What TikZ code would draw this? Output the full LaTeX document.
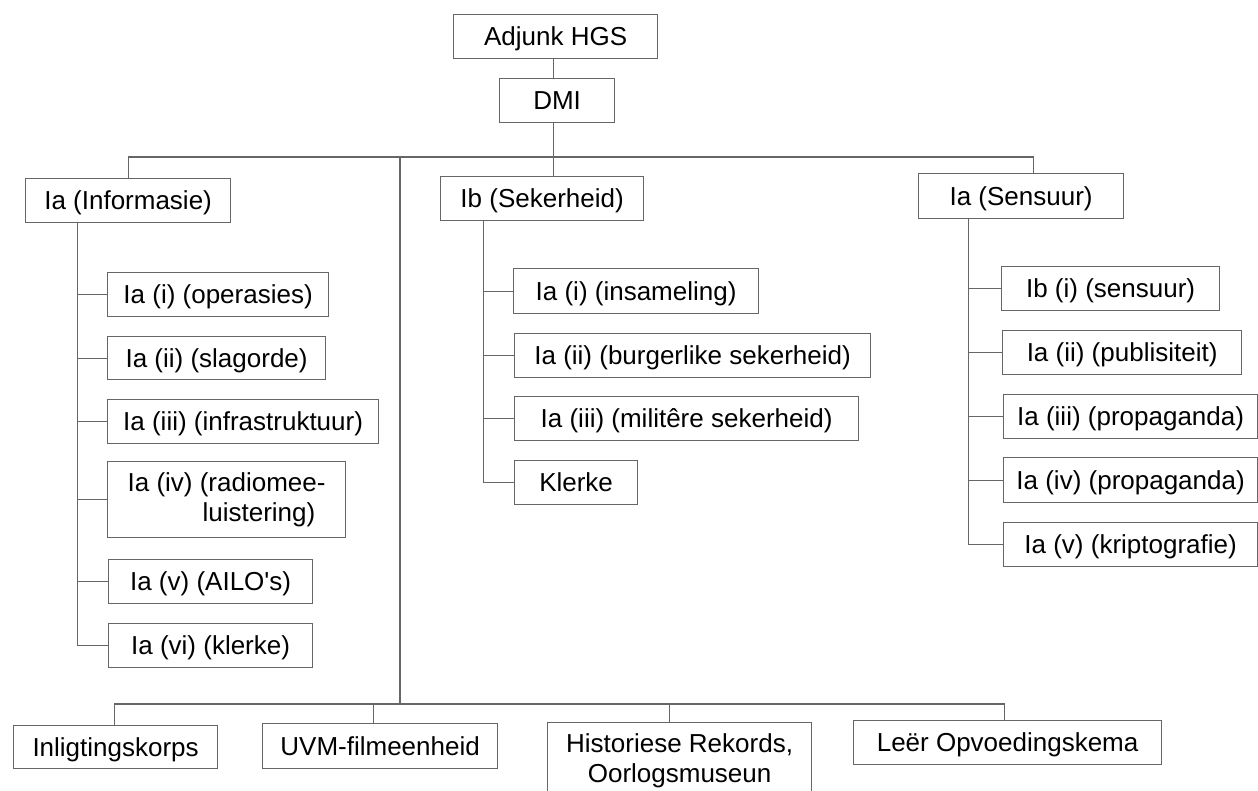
\documentclass[tikz,border=0pt]{standalone}
\usepackage{fontspec}
\setmainfont{Liberation Sans}
\newcommand\figfont{\fontsize{26}{30.5}\selectfont}
\definecolor{linec}{gray}{0.4}
\tikzset{
  bx/.style={draw=linec, line width=1.2pt, anchor=north west, inner sep=0pt, font=\figfont, text=black},
  one/.style={bx, text height=24.2pt, text depth=5.6pt},
  ln/.style={draw=linec, line width=1.2pt},
}
\begin{document}
\begin{tikzpicture}[x=1pt,y=-1pt]
\useasboundingbox (0,0) rectangle (1258,790);
\clip (0,0) rectangle (1258,790);
% top
\node[one, minimum width=204pt, minimum height=44pt] (adj) at (453,14) {Adjunk HGS};
\node[one, minimum width=115pt, minimum height=44pt] (dmi) at (499,78) {DMI};
% main branches
\node[one, minimum width=205pt, minimum height=44pt] (inf) at (25,178) {Ia (Informasie)};
\node[one, minimum width=203pt, minimum height=44pt] (sek) at (440,176) {Ib (Sekerheid)};
\node[one, minimum width=205pt, minimum height=45pt] (sen) at (918,173) {Ia (Sensuur)};
% Informasie children
\node[one, minimum width=221pt, minimum height=44pt] (i1) at (107,272) {Ia (i) (operasies)};
\node[one, minimum width=218pt, minimum height=43pt] (i2) at (107,336) {Ia (ii) (slagorde)};
\node[one, minimum width=271pt, minimum height=44pt] (i3) at (107,399) {Ia (iii) (infrastruktuur)};
\node[bx, minimum width=238pt, minimum height=76pt, align=left] (i4) at (107,461) {Ia (iv) (radiomee-\\\hspace*{75pt}luistering)};
\node[one, minimum width=204pt, minimum height=44pt] (i5) at (108,559) {Ia (v) (AILO\textquotesingle s)};
\node[one, minimum width=204pt, minimum height=44pt] (i6) at (108,623) {Ia (vi) (klerke)};
% Sekerheid children
\node[one, minimum width=245pt, minimum height=45pt] (s1) at (513,268) {Ia (i) (insameling)};
\node[one, minimum width=356pt, minimum height=44pt] (s2) at (514,333) {Ia (ii) (burgerlike sekerheid)};
\node[one, minimum width=344pt, minimum height=44pt] (s3) at (514,396) {Ia (iii) (militêre sekerheid)};
\node[one, minimum width=123pt, minimum height=44pt] (s4) at (514,460) {Klerke};
% Sensuur children
\node[one, minimum width=218pt, minimum height=44pt] (c1) at (1001,266) {Ib (i) (sensuur)};
\node[one, minimum width=239pt, minimum height=44pt] (c2) at (1002,330) {Ia (ii) (publisiteit)};
\node[one, minimum width=254pt, minimum height=44pt] (c3) at (1003,394) {Ia (iii) (propaganda)};
\node[one, minimum width=254pt, minimum height=45pt] (c4) at (1003,457) {Ia (iv) (propaganda)};
\node[one, minimum width=254pt, minimum height=44pt] (c5) at (1003,522) {Ia (v) (kriptografie)};
% bottom
\node[one, minimum width=204pt, minimum height=43pt] (b1) at (13,725) {Inligtingskorps};
\node[one, minimum width=235pt, minimum height=45pt] (b2) at (262,723) {UVM-filmeenheid};
\node[bx, minimum width=264pt, minimum height=76pt, align=center] (b3) at (547,722) {Historiese Rekords,\\Oorlogsmuseun};
\node[one, minimum width=308pt, minimum height=44pt] (b4) at (853,720) {Leër Opvoedingskema};

% connectors top
\draw[ln] ([xshift=-2pt]adj.south) -- ([xshift=-2pt]adj.south |- dmi.north);
\draw[ln] ([xshift=-3.5pt]dmi.south) -- ([xshift=-3.5pt]dmi.south |- sek.north);
\draw[ln] (inf.north) -- ++(0,-21) -| ([xshift=12pt]sen.north);
\coordinate (tk) at (400,157);
\coordinate (bt) at (400,704);
\draw[ln] (tk) -- (bt);
% bottom bar
\draw[ln] ([xshift=-1pt]b1.north) -- ([xshift=-1pt]b1.north |- bt) -- ([xshift=-3pt]b4.north |- bt) -- ([xshift=-3pt]b4.north);
\draw[ln] ([xshift=-7pt]b2.north) -- ([xshift=-7pt]b2.north |- bt);
\draw[ln] ([xshift=-10pt]b3.north) -- ([xshift=-10pt]b3.north |- bt);
% Informasie tree
\coordinate (iv) at ([xshift=-50.5pt]inf.south);
\draw[ln] (iv) |- (i6.west);
\foreach \n in {i1,i2,i3,i4,i5} \draw[ln] (\n.west) -- (\n.west -| iv);
% Sekerheid tree
\coordinate (sv) at ([xshift=-58.5pt]sek.south);
\draw[ln] (sv) |- (s4.west);
\foreach \n in {s1,s2,s3} \draw[ln] (\n.west) -- (\n.west -| sv);
% Sensuur tree
\coordinate (cv) at ([xshift=-53pt]sen.south);
\draw[ln] (cv) |- (c5.west);
\foreach \n in {c1,c2,c3,c4} \draw[ln] (\n.west) -- (\n.west -| cv);
\end{tikzpicture}
\end{document}
